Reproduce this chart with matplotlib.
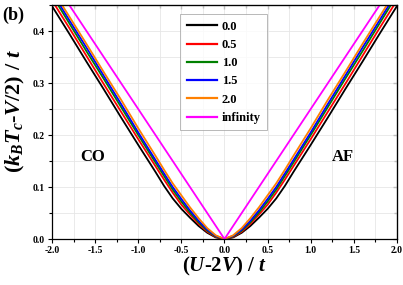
import numpy as np
import matplotlib
matplotlib.use('Agg')
import matplotlib.pyplot as plt
from matplotlib.ticker import MultipleLocator

plt.rcParams['font.family'] = 'Liberation Serif'
plt.rcParams['font.weight'] = 'bold'
plt.rcParams['mathtext.fontset'] = 'custom'
plt.rcParams['mathtext.rm'] = 'Liberation Serif:bold'
plt.rcParams['mathtext.it'] = 'Liberation Serif:italic:bold'
plt.rcParams['mathtext.bf'] = 'Liberation Serif:bold'

# data (curves are symmetric in U-2V)
x_half = [0.0, 0.1, 0.2, 0.3, 0.4, 0.5, 0.6, 0.7, 0.8, 1.0, 1.2, 1.4, 1.6, 1.8, 2.0]
tc_00 = [0.0, 0.003, 0.012, 0.025, 0.041, 0.058, 0.078, 0.102, 0.129, 0.181, 0.234, 0.288, 0.341, 0.395, 0.448]
tc_05 = [0.0, 0.004, 0.014, 0.029, 0.047, 0.066, 0.089, 0.114, 0.140, 0.192, 0.245, 0.298, 0.352, 0.406, 0.459]
tc_10 = [0.0, 0.005, 0.016, 0.032, 0.051, 0.072, 0.095, 0.121, 0.147, 0.200, 0.254, 0.308, 0.361, 0.415, 0.469]
tc_15 = [0.0, 0.006, 0.018, 0.035, 0.055, 0.077, 0.100, 0.126, 0.152, 0.205, 0.260, 0.314, 0.368, 0.421, 0.475]
tc_20 = [0.0, 0.007, 0.021, 0.040, 0.061, 0.084, 0.107, 0.133, 0.160, 0.213, 0.268, 0.321, 0.375, 0.428, 0.481]
tc_inf = [0.0, 0.025, 0.050, 0.075, 0.100, 0.125, 0.150, 0.175, 0.200, 0.250, 0.300, 0.350, 0.400, 0.450, 0.500]

labels = ['0.0', '0.5', '1.0', '1.5', '2.0', 'infinity']
colors = ['black', 'red', '#008000', 'blue', '#FF8000', 'magenta']
series = [tc_00, tc_05, tc_10, tc_15, tc_20, tc_inf]

fig = plt.figure(figsize=(4.03, 2.85), dpi=100)
ax = fig.add_axes([0.129, 0.1614, 0.856, 0.821])

for y, lab, c in zip(series, labels, colors):
    xs = np.concatenate([-np.array(x_half[::-1]), np.array(x_half[1:])])
    ys = np.concatenate([np.array(y[::-1]), np.array(y[1:])])
    ax.plot(xs, ys, color=c, lw=1.3, label=lab)

ax.set_xlim(-2.0, 2.0)
ax.set_ylim(0.0, 0.45)
ax.xaxis.set_major_locator(MultipleLocator(0.5))
ax.xaxis.set_minor_locator(MultipleLocator(0.25))
ax.yaxis.set_major_locator(MultipleLocator(0.1))
ax.yaxis.set_minor_locator(MultipleLocator(0.05))
ax.xaxis.set_major_formatter(plt.FormatStrFormatter('%.1f'))
ax.yaxis.set_major_formatter(plt.FormatStrFormatter('%.1f'))
ax.tick_params(which='major', direction='out', length=3, width=0.8, labelsize=7, pad=2)
ax.tick_params(which='minor', direction='out', length=2, width=0.8)
ax.grid(True, which='both', color='#e6e6e6', lw=0.6)
ax.set_axisbelow(True)
for s in ax.spines.values():
    s.set_linewidth(0.9)

# mirrored ticks pointing inward on top/right
top = ax.secondary_xaxis('top')
top.xaxis.set_major_locator(MultipleLocator(0.5))
top.xaxis.set_minor_locator(MultipleLocator(0.25))
top.tick_params(which='major', direction='in', length=3, width=0.8, labeltop=False)
top.tick_params(which='minor', direction='in', length=2, width=0.8)
right = ax.secondary_yaxis('right')
right.yaxis.set_major_locator(MultipleLocator(0.1))
right.yaxis.set_minor_locator(MultipleLocator(0.05))
right.tick_params(which='major', direction='in', length=3, width=0.8, labelright=False)
right.tick_params(which='minor', direction='in', length=2, width=0.8)

ax.set_xlabel(r'$(U\text{-2}V)\ /\ t$', fontsize=15, labelpad=0)
ax.set_ylabel(r'$(k_{B}T_{c}\text{-}V\text{/2})\ /\ t$', fontsize=16)
ax.yaxis.set_label_coords(-0.072, 0.545)

ax.text(0.119, 0.35, 'CO', transform=ax.transAxes, fontsize=12,
        fontweight='bold', ha='center', va='center')
ax.text(0.843, 0.35, 'AF', transform=ax.transAxes, fontsize=12,
        fontweight='bold', ha='center', va='center')
fig.text(0.005, 0.93, '(b)', fontsize=13, fontweight='bold')

leg = ax.legend(loc='upper right', bbox_to_anchor=(0.623, 0.96), fontsize=9,
                frameon=True, fancybox=False, edgecolor='#999999',
                handlelength=2.4, handletextpad=0.4, labelspacing=0.5,
                borderpad=0.5, borderaxespad=0)
leg.get_frame().set_linewidth(0.6)
for line in leg.get_lines():
    line.set_linewidth(1.6)

fig.savefig('out.png', dpi=100)
